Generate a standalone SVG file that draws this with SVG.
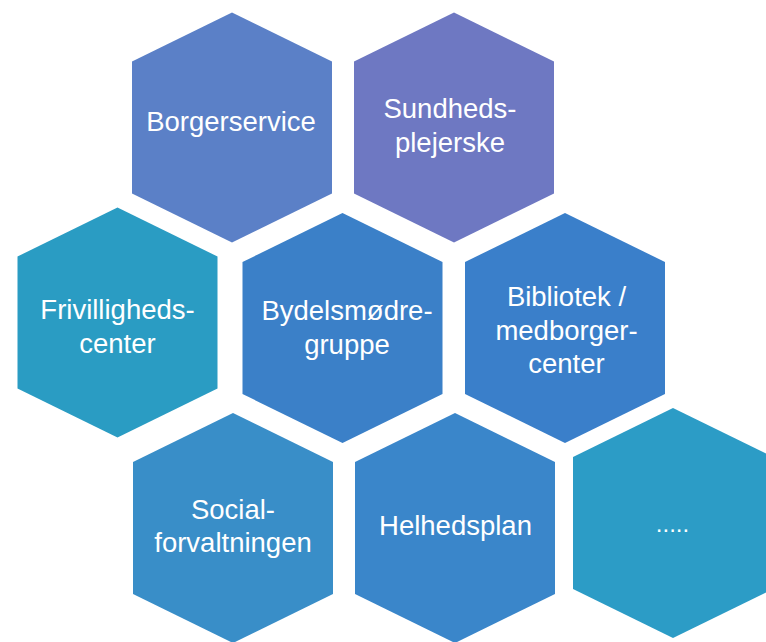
<svg xmlns="http://www.w3.org/2000/svg" xmlns:xlink="http://www.w3.org/1999/xlink" width="766" height="642" viewBox="0 0 766 642">
  <defs>
    <polygon id="hex" points="0,-115 100,-66 100,66 0,115 -100,66 -100,-66"/>
  </defs>
  <style>
    text { font-family: "Liberation Sans", Arial, sans-serif; font-size: 27.5px; fill: #ffffff; text-anchor: middle; }
  </style>
  <rect width="766" height="642" fill="#ffffff"/>
  <g id="connectors"/>
  <g id="borgerservice">
    <use xlink:href="#hex" href="#hex" transform="translate(232,127.5)" fill="#5b80c7"/>
    <text x="231" y="131">Borgerservice</text>
  </g>
  <g id="sundhedsplejerske">
    <use xlink:href="#hex" href="#hex" transform="translate(454,127.5)" fill="#6e78c2"/>
    <text x="450" y="118">Sundheds-</text>
    <text x="450" y="151.5">plejerske</text>
  </g>
  <g id="frivillighedscenter">
    <use xlink:href="#hex" href="#hex" transform="translate(117.5,322.5)" fill="#2a9cc3"/>
    <text x="117.5" y="319">Frivilligheds-</text>
    <text x="117.5" y="352.5">center</text>
  </g>
  <g id="bydelsmoedregruppe">
    <use xlink:href="#hex" href="#hex" transform="translate(342.5,328)" fill="#3b80c8"/>
    <text x="347" y="320">Bydelsmødre-</text>
    <text x="347" y="353.5">gruppe</text>
  </g>
  <g id="bibliotek">
    <use xlink:href="#hex" href="#hex" transform="translate(565,328)" fill="#3a7fca"/>
    <text x="566.5" y="306">Bibliotek /</text>
    <text x="566.5" y="339.5">medborger-</text>
    <text x="566.5" y="373">center</text>
  </g>
  <g id="socialforvaltningen">
    <use xlink:href="#hex" href="#hex" transform="translate(233,528)" fill="#398ec8"/>
    <text x="233" y="518.5">Social-</text>
    <text x="233" y="552">forvaltningen</text>
  </g>
  <g id="helhedsplan">
    <use xlink:href="#hex" href="#hex" transform="translate(455,528)" fill="#3a86ca"/>
    <text x="455.5" y="535">Helhedsplan</text>
  </g>
  <g id="more">
    <use xlink:href="#hex" href="#hex" transform="translate(673,523)" fill="#2c9cc6"/>
    <text x="672.5" y="532" style="font-size:24px">.....</text>
  </g>
</svg>
